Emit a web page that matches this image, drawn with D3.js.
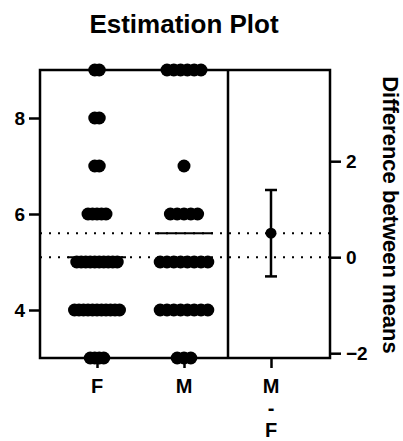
<!DOCTYPE html>
<html><head><meta charset="utf-8">
<script src="https://cdn.jsdelivr.net/npm/d3@7"></script>
<style>body{margin:0;background:#fff}svg{display:block}text{font-family:"Liberation Sans",Arial,sans-serif;fill:#000}</style>
</head><body><svg id="c" width="403" height="441"></svg>
<script>
// Data
const groups = ["F", "M"];
const xCategories = ["F", "M", "M-F"];
const values = [9, 8, 7, 6, 5, 4, 3];
const countsF = [2, 2, 2, 5, 10, 11, 4];   // points per value for F
const countsM = [6, 0, 1, 5, 8, 8, 3];     // points per value for M
const groupMeans = [5.1, 5.6];
const meanDiff = [0.5];
const diffCI = [-0.4, 1.4];
const leftTicks = [4, 6, 8];
const rightTicks = [-2, 0, 2];

const svg = d3.select("#c");
const pTop = 70, pBottom = 358, pLeft = 40, pDivider = 228, pRight = 330;

const x = d3.scalePoint().domain(xCategories).range([97, 271]);
const y = d3.scaleLinear().domain([3, 9]).range([pBottom, pTop]);
const yR = d3.scaleLinear().domain([3 - groupMeans[0], 9 - groupMeans[0]]).range([pBottom, pTop]);

const spacing = {F: 4.5, M: 6.8};
const counts = {F: countsF, M: countsM};
const pts = [];
groups.forEach(g => {
  values.forEach((v, i) => {
    const n = counts[g][i];
    for (let k = 0; k < n; k++) pts.push({g, v, off: (k - (n - 1) / 2) * spacing[g]});
  });
});

// dotted mean lines
svg.append("g").selectAll("line").data(groupMeans).join("line")
  .attr("x1", pLeft).attr("x2", pRight)
  .attr("y1", d => y(d)).attr("y2", d => y(d))
  .attr("stroke", "#000").attr("stroke-width", 2)
  .attr("stroke-dasharray", "2,7");

// points
svg.append("g").selectAll("circle").data(pts).join("circle")
  .attr("cx", d => x(d.g) + d.off).attr("cy", d => y(d.v)).attr("r", 6.5).attr("fill", "#000");

// mean bars
svg.append("g").selectAll("line").data(groups).join("line")
  .attr("x1", d => x(d) - 29).attr("x2", d => x(d) + 29)
  .attr("y1", (d, i) => y(groupMeans[i])).attr("y2", (d, i) => y(groupMeans[i]))
  .attr("stroke", "#000").attr("stroke-width", 2);

// frame
const frame = svg.append("g").attr("stroke", "#000").attr("stroke-width", 2.5).attr("fill", "none");
frame.append("rect").attr("x", pLeft).attr("y", pTop).attr("width", pRight - pLeft).attr("height", pBottom - pTop);
frame.append("line").attr("x1", pDivider).attr("x2", pDivider).attr("y1", pTop).attr("y2", pBottom);

// left axis
const gl = svg.append("g").attr("transform", `translate(${pLeft},0)`)
  .call(d3.axisLeft(y).tickValues(leftTicks).tickSize(11).tickPadding(4).tickFormat(d3.format("d")));
gl.select(".domain").remove();
gl.selectAll("line").attr("stroke-width", 2.5);
gl.selectAll("text").attr("font-size", 19).attr("font-weight", "bold").attr("font-family", "Liberation Sans, Arial");

// right axis
const gr = svg.append("g").attr("transform", `translate(${pRight},0)`)
  .call(d3.axisRight(yR).tickValues(rightTicks).tickSize(11).tickPadding(5).tickFormat(d3.format("d")));
gr.select(".domain").remove();
gr.selectAll("line").attr("stroke-width", 2.5);
gr.selectAll("text").attr("font-size", 19).attr("font-weight", "bold").attr("font-family", "Liberation Sans, Arial");

// bottom axis
const gb = svg.append("g").attr("transform", `translate(0,${pBottom})`)
  .call(d3.axisBottom(x).tickSize(10).tickFormat(""));
gb.select(".domain").remove();
gb.selectAll("line").attr("stroke-width", 2.5);
const lab = svg.append("g").attr("font-size", 20).attr("font-weight", "bold").attr("text-anchor", "middle");
xCategories.forEach(c => {
  const parts = c === "M-F" ? ["M", "-", "F"] : [c];
  parts.forEach((p, i) => lab.append("text").attr("x", x(c)).attr("y", 393 + i * 22).text(p));
});

// difference estimate with CI
const xd = x("M-F");
svg.append("line").attr("x1", xd).attr("x2", xd).attr("y1", yR(diffCI[0])).attr("y2", yR(diffCI[1]))
  .attr("stroke", "#000").attr("stroke-width", 2.5);
svg.append("g").selectAll("line").data(diffCI).join("line")
  .attr("x1", xd - 6).attr("x2", xd + 6).attr("y1", d => yR(d)).attr("y2", d => yR(d))
  .attr("stroke", "#000").attr("stroke-width", 2.5);
svg.append("g").selectAll("circle").data(meanDiff).join("circle")
  .attr("cx", xd).attr("cy", d => yR(d)).attr("r", 5.5).attr("fill", "#000");

// titles
svg.append("text").attr("x", 184).attr("y", 33).attr("text-anchor", "middle")
  .attr("font-size", 26).attr("font-weight", "bold").text("Estimation Plot");
svg.append("text").attr("transform", "translate(383,215) rotate(90)").attr("text-anchor", "middle")
  .attr("font-size", 22).attr("font-weight", "bold").text("Difference between means");
</script></body></html>
